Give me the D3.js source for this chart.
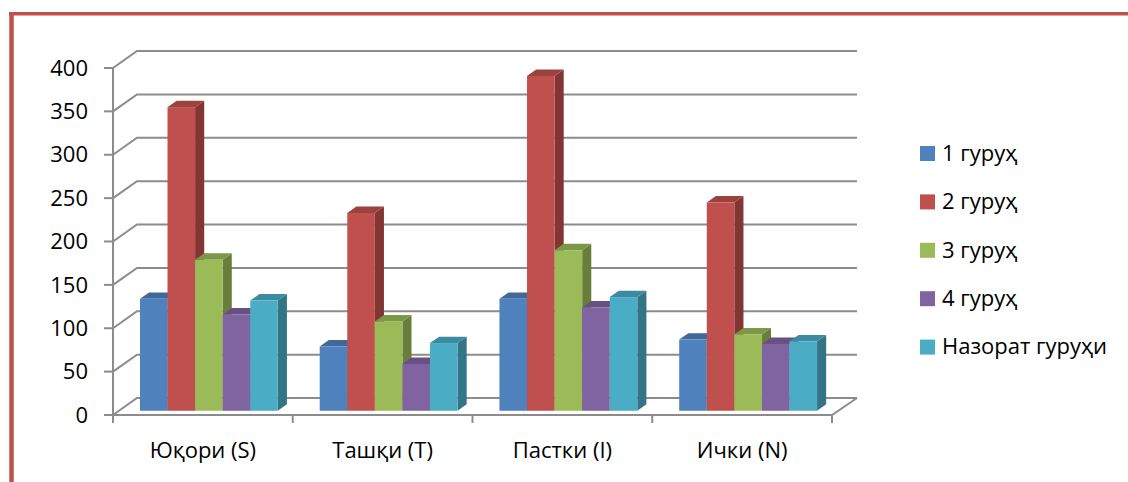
<!DOCTYPE html>
<html>
<head>
  <meta charset="utf-8">
  <title>Гуруҳлар бўйича натижалар</title>
  <script src="https://d3js.org/d3.v7.min.js"></script>
  <style>
    body { margin: 0; background: #fff; }
    .chart text { font-family: "Open Sans", sans-serif; fill: #000; }
    .grid { stroke: #8c8c8c; stroke-width: 2; fill: none; }
  </style>
</head>
<body>
  <div class="chart"></div>
  <script>
    // data
    const categories = ["Юқори (S)", "Ташқи (T)", "Пастки (I)", "Ички (N)"];
    const seriesNames = ["1 гуруҳ", "2 гуруҳ", "3 гуруҳ", "4 гуруҳ", "Назорат гуруҳи"];
    const group1 = [129, 74, 129, 82];
    const group2 = [350, 228, 386, 240];
    const group3 = [174, 103, 185, 88];
    const group4 = [111, 54, 119, 77];
    const control = [127, 78, 131, 80];
    const yTicks = [0, 50, 100, 150, 200, 250, 300, 350, 400];
    const colors = ["#4F81BD", "#C0504D", "#9BBB59", "#8064A2", "#4BACC6"];

    const series = [group1, group2, group3, group4, control];

    const W = 1128, H = 482;
    const fontSize = 22;
    const svg = d3.select(".chart").append("svg")
      .attr("width", W).attr("height", H);

    // red frame (only top and left edges show)
    svg.append("line").attr("x1", 9).attr("x2", W).attr("y1", 13.7).attr("y2", 13.7)
      .attr("stroke", "#C0504D").attr("stroke-width", 3.5);
    svg.append("line").attr("x1", 11.5).attr("x2", 11.5).attr("y1", 12).attr("y2", H)
      .attr("stroke", "#C0504D").attr("stroke-width", 4.5);

    // front plane scales + oblique depth
    const x = d3.scaleBand().domain(categories).range([113, 832]);
    const y = d3.scaleLinear().domain([0, 400]).range([415, 68]);
    const depth = { dx: 24, dy: -17 };
    const f0 = 0.25, f1 = 0.63;   // bars sit between these depth fractions

    const xs = d3.scaleBand().domain(d3.range(series.length))
      .range([0, x.bandwidth()]).paddingOuter(0.76);

    const g = svg.append("g");

    // left side wall lines + back wall gridlines
    yTicks.forEach(t => {
      g.append("path").attr("class", "grid")
        .attr("d", `M${113},${y(t)} L${113 + depth.dx},${y(t) + depth.dy} L${857},${y(t) + depth.dy}`);
    });

    // floor front edge and right edge
    g.append("path").attr("class", "grid")
      .attr("d", `M113,${y(0)} L832,${y(0)} L${832 + depth.dx + 1},${y(0) + depth.dy}`);

    // y axis
    g.append("line").attr("class", "grid")
      .attr("x1", 113).attr("x2", 113).attr("y1", y(400)).attr("y2", y(0));
    yTicks.forEach(t => {
      g.append("line").attr("class", "grid")
        .attr("x1", 104).attr("x2", 113).attr("y1", y(t)).attr("y2", y(t));
      g.append("text").attr("x", 88).attr("y", y(t)).attr("dy", "0.35em")
        .attr("text-anchor", "end").attr("font-size", fontSize).text(t);
    });

    // category ticks
    const bounds = categories.map(c => x(c)).concat([832]);
    bounds.forEach(b => {
      g.append("line").attr("class", "grid")
        .attr("x1", b).attr("x2", b).attr("y1", y(0)).attr("y2", y(0) + 8);
    });

    categories.forEach(c => {
      g.append("text").attr("x", x(c) + x.bandwidth() / 2).attr("y", 450)
        .attr("dy", "0.35em").attr("text-anchor", "middle")
        .attr("font-size", fontSize).text(c);
    });

    // bars
    const ox = f0 * depth.dx, oy = f0 * depth.dy;
    const ddx = (f1 - f0) * depth.dx, ddy = (f1 - f0) * depth.dy;
    const bw = xs.bandwidth();

    categories.forEach((c, ci) => {
      series.forEach((s, si) => {
        const x0 = x(c) + xs(si) + ox;
        const x1 = x0 + bw;
        const yb = y(0) + oy;
        const yt = y(s[ci]) + oy;
        const base = d3.color(colors[si]);
        const bar = g.append("g");
        // side face
        bar.append("path")
          .attr("d", `M${x1},${yb} L${x1 + ddx},${yb + ddy} L${x1 + ddx},${yt + ddy} L${x1},${yt} Z`)
          .attr("fill", base.darker(1.1));
        // top face
        bar.append("path")
          .attr("d", `M${x0},${yt} L${x1},${yt} L${x1 + ddx},${yt + ddy} L${x0 + ddx},${yt + ddy} Z`)
          .attr("fill", base.darker(0.6));
        // front face
        bar.append("rect")
          .attr("x", x0).attr("y", yt).attr("width", bw).attr("height", yb - yt)
          .attr("fill", base);
      });
    });

    // legend
    const legend = svg.append("g");
    seriesNames.forEach((n, i) => {
      const cy = 153 + i * 48.4;
      legend.append("rect").attr("x", 920).attr("y", cy - 7)
        .attr("width", 15).attr("height", 15).attr("fill", colors[i]);
      legend.append("text").attr("x", 942).attr("y", cy).attr("dy", "0.35em")
        .attr("font-size", fontSize).text(n);
    });
  </script>
</body>
</html>
